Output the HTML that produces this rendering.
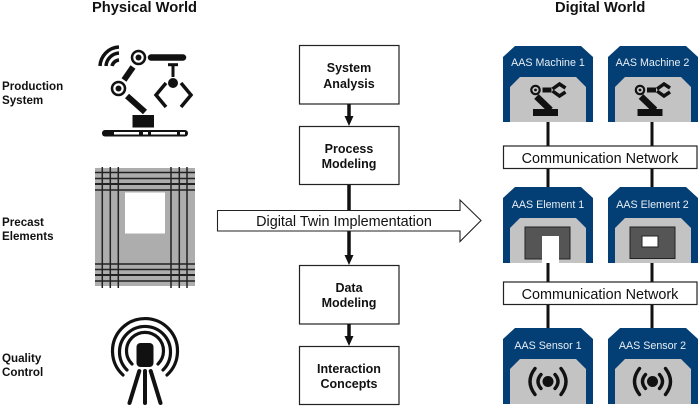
<!DOCTYPE html>
<html><head><meta charset="utf-8"><style>
html,body{margin:0;padding:0;background:#fff}
svg{display:block}
text{font-family:"Liberation Sans",Arial,sans-serif;fill:#111}
.h{font-weight:bold;font-size:14.7px}
.l{font-weight:bold;font-size:11.6px}
.c{font-weight:bold;font-size:12.5px;text-anchor:middle}
.a{font-size:10.7px;text-anchor:middle;fill:#e8eef4}
.n{font-size:14.4px;text-anchor:middle}
</style></head><body>
<svg width="699" height="407" viewBox="0 0 699 407" xmlns="http://www.w3.org/2000/svg">
<defs>
<g id="card"><path d="M0 76V11L12 0H78L90 11V76Z" fill="#033f75"/><path d="M7 76V41L17 31H73L83 41V76Z" fill="#c3c3c3"/></g>
<g id="mach" fill="none" stroke="#111">
<circle cx="0" cy="0" r="4.2" stroke-width="2.2"/><circle r="1.4" fill="#111" stroke="none"/>
<path d="M1 6.5L15 20" stroke-width="6.5"/><path d="M-2.5 22.5H22.5" stroke-width="7"/>
<path d="M7 0H16" stroke-width="5"/>
<path d="M17 -1L24 -6L30 -2M17 1L24 6L30 2" stroke-width="3.5"/>
</g>
<g id="sig" fill="none" stroke="#111" stroke-width="3.4" stroke-linecap="round">
<circle r="5.5" fill="#111" stroke="none"/>
<path d="M-7 -7Q-13 0 -7 7M7 -7Q13 0 7 7M-13 -13Q-23 0 -13 13M13 -13Q23 0 13 13"/>
</g>
</defs>

<text class="h" x="92" y="12">Physical World</text>
<text class="h" x="555" y="12">Digital World</text>
<text class="l" x="2" y="90">Production</text><text class="l" x="2" y="104">System</text>
<text class="l" x="2" y="226">Precast</text><text class="l" x="2" y="240">Elements</text>
<text class="l" x="2" y="362">Quality</text><text class="l" x="2" y="376">Control</text>

<!-- robot -->
<g fill="none" stroke="#111">
<path d="M100 66A20 20 0 0 1 119 47" stroke-width="3.5"/>
<path d="M106 66A14 14 0 0 1 119 53" stroke-width="3.5"/>
<path d="M112 66A8 8 0 0 1 119 60" stroke-width="3.5"/>
<circle cx="138.5" cy="57.5" r="6.5" stroke-width="2.5"/><circle cx="138.5" cy="57.5" r="3" fill="#111" stroke="none"/>
<circle cx="118.5" cy="88.5" r="6.5" stroke-width="2.5"/><circle cx="118.5" cy="88.5" r="3" fill="#111" stroke="none"/>
<path d="M133 67L124 80" stroke-width="6"/>
<path d="M127 96L145 112" stroke-width="6"/>
<path d="M151 57.5H183" stroke-width="6.5" stroke-linecap="round"/>
<path d="M168 64.7H178" stroke-width="3"/><path d="M173 65V77" stroke-width="3"/>
<circle cx="173" cy="83" r="5" fill="#111" stroke="none"/>
<path d="M166 83L156 95L166 107M181 83L191 95L181 107" stroke-width="3.5"/>
</g>
<rect x="132.5" y="115" width="21.5" height="12.5" fill="#111"/>
<rect x="102" y="130" width="86" height="6.5" rx="3" fill="#111"/>
<g fill="#fff"><rect x="114" y="132" width="25" height="2.5"/><rect x="143" y="132" width="5" height="2.5"/><rect x="151" y="132" width="26" height="2.5"/><rect x="180" y="132" width="5" height="2.5"/></g>

<!-- precast -->
<rect x="95" y="168" width="100" height="118" fill="#adadad"/>
<g stroke="#222" stroke-width="1.5">
<path d="M102.3 167V288M110.3 167V288M118.3 167V288M171 167V288M179.3 167V288M187 167V288"/>
<path d="M95 172.5H195M95 178.5H195M95 190H195M95 264H195M95 269.5H195M95 281H195"/>
<path d="M95 184H195M95 275H195" stroke-width="2"/>
</g>
<rect x="125" y="192.5" width="40" height="41" fill="#fff"/>

<!-- sensor -->
<g fill="none" stroke="#111" stroke-width="3.2" stroke-linecap="round">
<path d="M123 375A32.5 32.5 0 1 1 167 375"/>
<path d="M127 370A25.5 25.5 0 1 1 163 370"/>
<path d="M132 364A18.5 18.5 0 1 1 158 364"/>
<path d="M139.3 371L129.5 403M145 371V403M150.7 371L160.5 403" stroke-width="4"/>
</g>
<rect x="136.5" y="343" width="17" height="24" rx="4" fill="#111"/>

<!-- process boxes -->
<g fill="#fff" stroke="#222" stroke-width="1.2">
<rect x="299.5" y="45.5" width="99.5" height="58.5"/>
<rect x="299.5" y="126.5" width="99.5" height="58"/>
<rect x="299.5" y="265.5" width="99.5" height="58.5"/>
<rect x="299.5" y="346.5" width="99.5" height="58"/>
</g>
<text class="c" x="349" y="72">System</text><text class="c" x="349" y="88">Analysis</text>
<text class="c" x="349" y="153">Process</text><text class="c" x="349" y="168">Modeling</text>
<text class="c" x="349" y="292">Data</text><text class="c" x="349" y="307">Modeling</text>
<text class="c" x="349" y="373">Interaction</text><text class="c" x="349" y="388">Concepts</text>
<g stroke="#111" stroke-width="3.5">
<path d="M349 104V118M349 185V257M349 324V338"/>
</g>
<g fill="#111">
<path d="M344.5 116H353.5L349 126Z"/><path d="M344.5 255H353.5L349 265Z"/><path d="M344.5 336H353.5L349 346Z"/>
</g>
<path d="M217.5 210.5H460V200L481 220.5L460 241.5V231H217.5Z" fill="#fff" stroke="#222" stroke-width="1.1"/>
<text class="n" x="344" y="226">Digital Twin Implementation</text>

<!-- digital -->
<g stroke="#111" stroke-width="3">
<path d="M548 122V146M652 122V146M548 168V187M652 168V187M548 263V282M652 263V282M548 304V328M652 304V328"/>
</g>
<use href="#card" x="503" y="46"/><use href="#card" x="608" y="46"/>
<use href="#card" x="503" y="187"/><use href="#card" x="608" y="187"/>
<use href="#card" x="503" y="328"/><use href="#card" x="608" y="328"/>
<text class="a" x="548" y="66">AAS Machine 1</text><text class="a" x="652.5" y="66">AAS Machine 2</text>
<text class="a" x="548" y="208">AAS Element 1</text><text class="a" x="652.5" y="208">AAS Element 2</text>
<text class="a" x="548" y="349">AAS Sensor 1</text><text class="a" x="652.5" y="349">AAS Sensor 2</text>
<use href="#mach" x="535.5" y="90"/><use href="#mach" x="640" y="90"/>
<rect x="525" y="227" width="45" height="32" fill="#555" stroke="#222"/>
<rect x="542" y="236" width="17" height="27" fill="#fff"/>
<rect x="630" y="227" width="45" height="31.5" fill="#555" stroke="#222"/>
<rect x="642" y="236" width="16" height="11" fill="#fff" stroke="#222"/>
<use href="#sig" x="548" y="381.5"/><use href="#sig" x="652.5" y="381.5"/>
<g fill="#fff" stroke="#222" stroke-width="1.2">
<rect x="503.5" y="146" width="193.5" height="22.5"/>
<rect x="503.5" y="282" width="193.5" height="22.5"/>
</g>
<text class="n" x="600" y="163">Communication Network</text>
<text class="n" x="600" y="299">Communication Network</text>
</svg>
</body></html>
